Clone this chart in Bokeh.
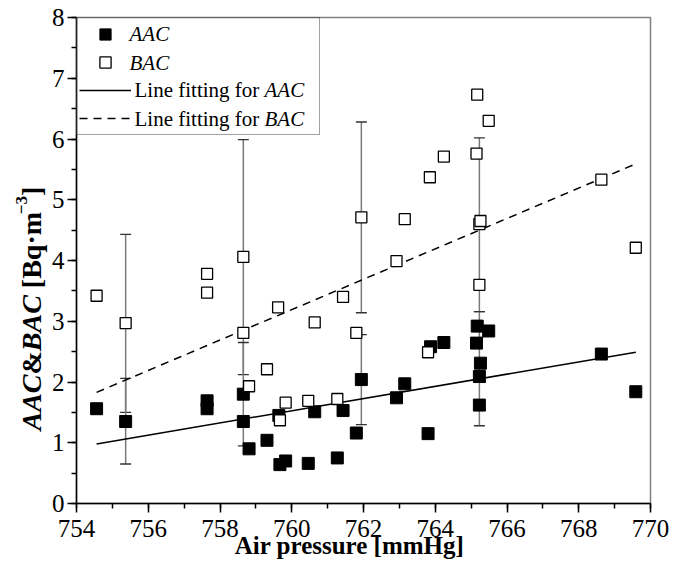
import numpy as np
from bokeh.plotting import figure
from bokeh.models import (ColumnDataSource, Whisker, TeeHead, Legend,
                          LegendItem, SingleIntervalTicker, Range1d)
from bokeh.core.properties import value
from bokeh.embed import file_html
from bokeh.resources import INLINE

# ---- data ----
aac_x = [754.56, 755.37, 757.64, 757.64, 758.65, 758.65, 758.81, 759.31, 759.64,
         759.67, 759.83, 760.46, 760.64, 761.27, 761.43, 761.80, 761.94, 762.92,
         763.15, 763.80, 763.87, 764.24, 765.15, 765.17, 765.23, 765.23, 765.26,
         765.49, 768.63, 769.59]
aac_y = [1.56, 1.35, 1.69, 1.56, 1.80, 1.35, 0.90, 1.04, 1.45,
         0.64, 0.70, 0.66, 1.51, 0.75, 1.53, 1.16, 2.04, 1.74,
         1.97, 1.15, 2.58, 2.65, 2.64, 2.92, 2.09, 1.62, 2.31,
         2.84, 2.46, 1.84]
bac_x = [754.56, 755.37, 757.64, 757.64, 758.65, 758.65, 758.81, 759.31, 759.62,
         759.67, 759.83, 760.46, 760.64, 761.27, 761.43, 761.80, 761.94, 762.92,
         763.15, 763.80, 763.85, 764.24, 765.15, 765.17, 765.23, 765.23, 765.26,
         765.49, 768.63, 769.59]
bac_y = [3.42, 2.97, 3.78, 3.47, 4.06, 2.81, 1.93, 2.21, 3.23,
         1.37, 1.66, 1.69, 2.98, 1.72, 3.40, 2.81, 4.71, 3.99,
         4.68, 2.49, 5.37, 5.71, 5.76, 6.73, 4.60, 3.60, 4.65,
         6.30, 5.33, 4.21]
err_x = [755.37, 758.65, 761.94, 765.23]
aac_lo = [0.65, 0.95, 1.30, 1.28]
aac_hi = [2.06, 2.65, 2.78, 3.16]
bac_lo = [1.50, 2.12, 3.14, 3.16]
bac_hi = [4.43, 5.99, 6.28, 6.02]
fit_x = [754.56, 769.59]
aac_fit = [0.98, 2.49]
bac_fit = [1.83, 5.59]

SERIF = "Liberation Serif"
X0, X1, Y0, Y1 = 754, 770, 0, 8
W, H = 670, 570
BL, BR, BT = 76, 20, 17
BB = H - 503
PXX = (W - BL - BR) / (X1 - X0)     # px per x unit
PXY = (H - BT - BB) / (Y1 - Y0)     # px per y unit

p = figure(width=W, height=H, x_range=Range1d(X0, X1), y_range=Range1d(Y0, Y1),
           output_backend="svg", toolbar_location=None,
           min_border_left=BL, min_border_right=BR, min_border_top=BT, min_border_bottom=BB)
p.xgrid.visible = False
p.ygrid.visible = False
p.outline_line_color = "#808080"
p.outline_line_width = 1.5

p.xaxis.ticker = SingleIntervalTicker(interval=2, num_minor_ticks=2)
p.yaxis.ticker = SingleIntervalTicker(interval=1, num_minor_ticks=2)
for ax in (p.xaxis[0], p.yaxis[0]):
    ax.axis_line_color = "black"
    ax.axis_line_width = 1.5
    ax.major_tick_in = 0
    ax.major_tick_out = 9
    ax.minor_tick_in = 0
    ax.minor_tick_out = 5
    ax.major_tick_line_width = 1.5
    ax.minor_tick_line_width = 1.5
    ax.major_tick_line_color = "black"
    ax.minor_tick_line_color = "black"
    ax.major_label_text_font = SERIF
    ax.major_label_text_font_size = "25px"
    ax.major_label_text_color = "black"
p.xaxis.major_label_standoff = 7
p.yaxis.major_label_standoff = 3

# error bars
src_err = ColumnDataSource(dict(x=err_x, alo=aac_lo, ahi=aac_hi, blo=bac_lo, bhi=bac_hi))
for lo, hi in (("blo", "bhi"), ("alo", "ahi")):
    w = Whisker(base="x", lower=lo, upper=hi, source=src_err, dimension="height",
                line_color="#7a7a7a", line_width=1.5, level="underlay",
                upper_head=TeeHead(size=11, line_color="#333333", line_width=1.3),
                lower_head=TeeHead(size=11, line_color="#333333", line_width=1.3))
    p.add_layout(w)

l_a = p.line(fit_x, aac_fit, line_color="black", line_width=1.5)
l_b = p.line(fit_x, bac_fit, line_color="black", line_width=1.5, line_dash="8 6")
r_a = p.scatter(aac_x, aac_y, marker="square", size=12, fill_color="black", line_color="black")
r_b = p.scatter(bac_x, bac_y, marker="square", size=11, fill_color="white",
                line_color="black", line_width=1.3)

legend = Legend(items=[LegendItem(label=" ", renderers=[r_a]),
                       LegendItem(label=" ", renderers=[r_b]),
                       LegendItem(label=" ", renderers=[l_a]),
                       LegendItem(label=" ", renderers=[l_b])],
                location="top_left", margin=0, padding=2, spacing=0,
                glyph_width=52, glyph_height=28, label_width=186, label_height=28,
                label_standoff=0, border_line_color="#444444", border_line_width=1.2,
                background_fill_alpha=0.0)
p.add_layout(legend)


def lab(fx, fy, text, size=21, style="normal", angle=0.0, align="left"):
    # fx, fy: pixel offsets from the frame's bottom-left corner, mapped to data units
    p.text(x=[X0 + fx / PXX], y=[Y0 + fy / PXY], text=[text], angle=angle,
           text_font=value(SERIF), text_font_size=value(f"{size}px"),
           text_font_style=value(style), text_color="black",
           text_baseline="middle", text_align=align, level="annotation")


# legend texts
lab(53, 470, "AAC", style="italic")
lab(53, 441, "BAC", style="italic")
lab(58, 414, "Line fitting for")
lab(188, 414, "AAC", style="italic")
lab(58, 385, "Line fitting for")
lab(188, 385, "BAC", style="italic")

# x axis label
lab(273, -42, "Air pressure [mmHg]", size=25, style="bold", align="center")

# y axis label pieces (rotated); (text, style, size, advance in em, gap before in em)
fs = 28
pieces = [("AAC", "bold italic", fs, 2.0, 0.0), ("&", "bold", fs, 0.833, 0.0),
          ("BAC", "bold italic", fs, 2.0, 0.0), ("[Bq\u00b7m", "bold", fs, 2.639, 0.25),
          ("\u22123", "bold", 17, 1.07, 0.0), ("]", "bold", fs, 0.333, 0.0)]
ypos = 73
for txt, st, sz, em, gap in pieces:
    ypos += gap * sz
    xoff = -45 if sz == fs else -55
    lab(xoff, ypos, txt, size=sz, style=st, angle=np.pi / 2)
    ypos += em * sz

open("out.html", "w").write(file_html(p, INLINE))
